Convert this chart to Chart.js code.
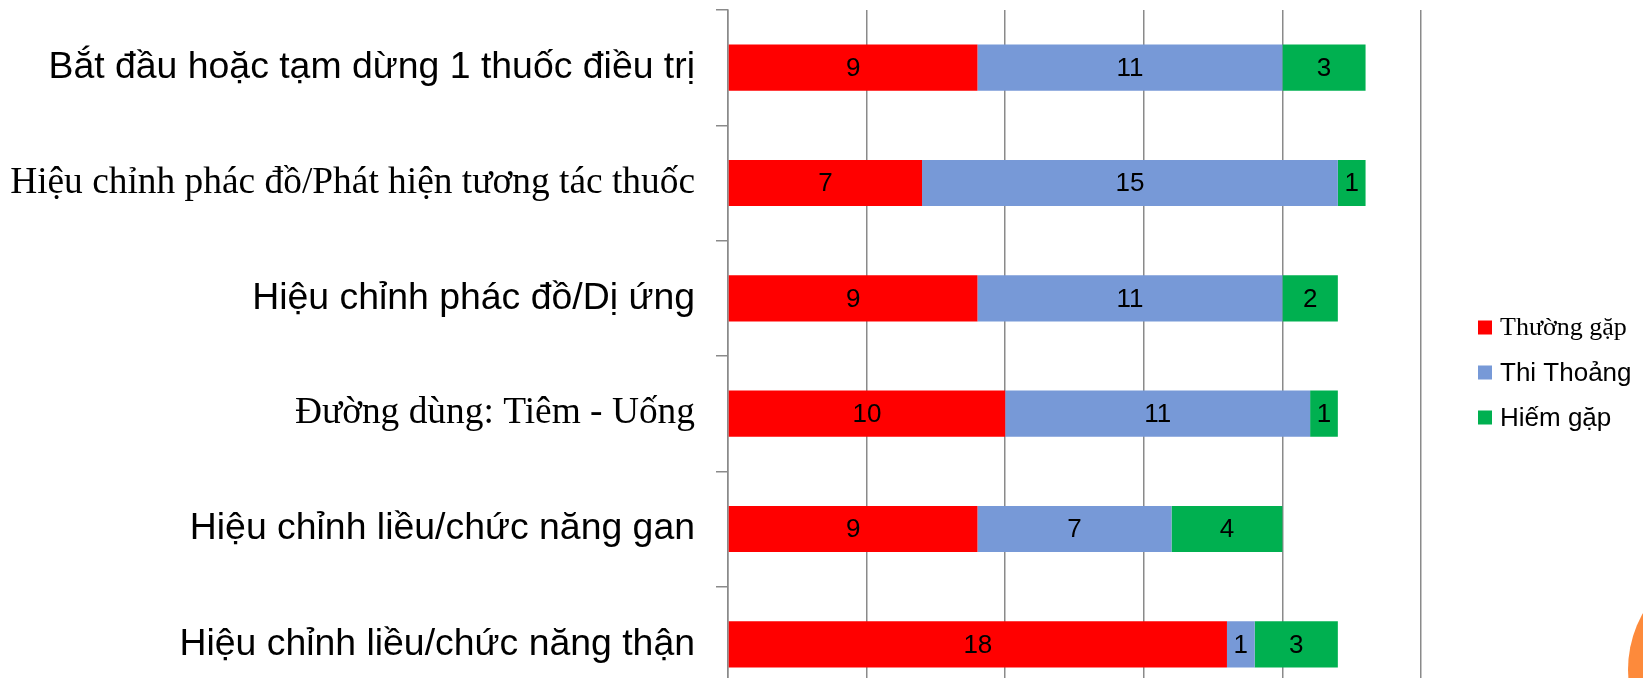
<!DOCTYPE html>
<html>
<head>
<meta charset="utf-8">
<script src="https://cdn.jsdelivr.net/npm/chart.js@4.4.1/dist/chart.umd.min.js"></script>
<style>
    html, body { margin: 0; padding: 0; background: #fff; overflow: hidden; }
    #wrap { position: relative; width: 1643px; height: 702px; }
    #deco {
        position: absolute; left: 1628px; top: 554px;
        width: 232px; height: 232px; border-radius: 50%;
        background: #fd8a3b;
    }
</style>
</head>
<body>
<div id="wrap">
    <canvas id="chart"></canvas>
    <div id="deco"></div>
</div>
<script>
const categories = [
    'Bắt đầu hoặc tạm dừng 1 thuốc điều trị',
    'Hiệu chỉnh phác đồ/Phát hiện tương tác thuốc',
    'Hiệu chỉnh phác đồ/Dị ứng',
    'Đường dùng: Tiêm - Uống',
    'Hiệu chỉnh liều/chức năng gan',
    'Hiệu chỉnh liều/chức năng thận'
];
const seriesNames = ['Thường gặp', 'Thi Thoảng', 'Hiếm gặp'];
const thuongGap = [9, 7, 9, 10, 9, 18];
const thiThoang = [11, 15, 11, 11, 7, 1];
const hiemGap = [3, 1, 2, 1, 4, 3];
const xTicks = [0, 5, 10, 15, 20, 25];

const colors = ['#ff0000', '#7799d7', '#00b050'];
const serifLabels = [1, 3];     // the labels set in a Times-like face
const serifLegend = [0];
const SANS = "'Liberation Sans', Arial, sans-serif";
const SERIF = "'Liberation Serif', 'Times New Roman', serif";

// centred value inside each segment
const segmentLabels = {
    id: 'segmentLabels',
    afterDatasetsDraw(chart) {
        const ctx = chart.ctx;
        ctx.save();
        ctx.font = '26px ' + SANS;
        ctx.fillStyle = '#000';
        ctx.textAlign = 'center';
        ctx.textBaseline = 'middle';
        chart.data.datasets.forEach((ds, i) => {
            chart.getDatasetMeta(i).data.forEach((bar, j) => {
                ctx.fillText(ds.data[j], (bar.x + bar.base) / 2, bar.y + 1);
            });
        });
        ctx.restore();
    }
};

// legend drawn by hand so each entry can keep its own typeface
const sideLegend = {
    id: 'sideLegend',
    afterDraw(chart) {
        const ctx = chart.ctx;
        const x = chart.chartArea.right + 57;
        ctx.save();
        ctx.textBaseline = 'middle';
        chart.data.datasets.forEach((ds, i) => {
            const cy = 327.5 + i * 45;
            ctx.fillStyle = ds.backgroundColor;
            ctx.fillRect(x, cy - 7, 14, 14);
            ctx.fillStyle = '#000';
            ctx.font = '26px ' + (serifLegend.includes(i) ? SERIF : SANS);
            ctx.fillText(ds.label, x + 22, cy + 1);
        });
        ctx.restore();
    }
};

new Chart(document.getElementById('chart').getContext('2d'), {
    type: 'bar',
    data: {
        labels: categories,
        datasets: [
            { label: seriesNames[0], data: thuongGap, backgroundColor: colors[0] },
            { label: seriesNames[1], data: thiThoang, backgroundColor: colors[1] },
            { label: seriesNames[2], data: hiemGap, backgroundColor: colors[2] }
        ]
    },
    options: {
        indexAxis: 'y',
        responsive: true,
        maintainAspectRatio: false,
        animation: false,
        datasets: { bar: { categoryPercentage: 1, barPercentage: 0.4 } },
        layout: { padding: { top: 10, right: 222, bottom: 0, left: 0 } },
        plugins: {
            legend: { display: false },
            tooltip: { enabled: false }
        },
        scales: {
            x: {
                stacked: true,
                min: 0,
                max: 25,
                afterBuildTicks: s => { s.ticks = xTicks.map(v => ({ value: v })); },
                ticks: { display: false },
                grid: { color: '#8a8a8a', lineWidth: 1.5, drawTicks: false },
                border: { display: false }
            },
            y: {
                stacked: true,
                afterFit: s => {
                    s.width = 728;
                    s.paddingTop = 0;
                    s.paddingBottom = 0;
                },
                grid: {
                    drawOnChartArea: false,
                    drawTicks: true,
                    tickLength: 12,
                    color: '#8a8a8a',
                    lineWidth: 1.5
                },
                border: { display: true, color: '#8a8a8a', width: 1.5 },
                ticks: {
                    color: '#000',
                    padding: 21,
                    font: ctx => ({
                        family: serifLabels.includes(ctx.index) ? SERIF : SANS,
                        size: 37.4
                    })
                }
            }
        }
    },
    plugins: [segmentLabels, sideLegend]
});
</script>
</body>
</html>
